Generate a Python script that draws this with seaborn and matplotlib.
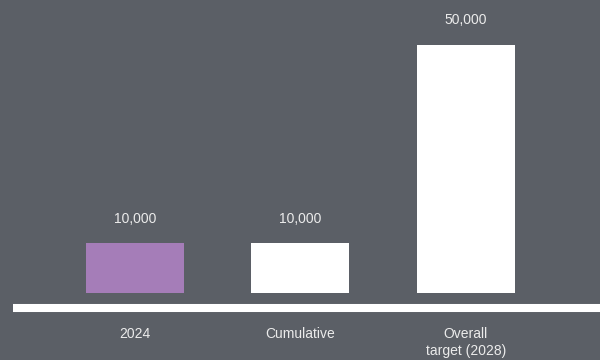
import matplotlib
matplotlib.use("Agg")
import matplotlib.pyplot as plt
import seaborn as sns
import pandas as pd

# Chart data
categories = ["2024", "Cumulative", "Overall\ntarget (2028)"]
values = [10000, 10000, 50000]
value_labels = ["10,000", "10,000", "50,000"]

# Styling
bg = "#5b5f66"
text_color = "#ebebeb"
bar_colors = ["#a57db8", "#ffffff", "#ffffff"]

sns.set_theme(style="white")
plt.rcParams["font.family"] = ["Liberation Sans", "DejaVu Sans"]

df = pd.DataFrame({"category": categories, "value": values})

W, H = 600, 360
fig = plt.figure(figsize=(W / 100, H / 100), dpi=100, facecolor=bg)
# axes spans from x=13px to the right edge, bottom of bars at 293px from top
ax = fig.add_axes([13 / W, (H - 293) / H, (W - 13) / W, 293 / H])
ax.set_facecolor(bg)

sns.barplot(data=df, x="category", y="value", hue="category",
            palette=bar_colors, order=categories, hue_order=categories,
            width=0.592, saturation=1, legend=False, linewidth=0,
            edgecolor="none", ax=ax)

ax.set_xlim(-0.737, 2.81)
ax.set_ylim(0, 50000 * 293 / 248)

for i, (v, lab) in enumerate(zip(values, value_labels)):
    ax.annotate(lab, xy=(i, v), xytext=(0, 14.8), textcoords="offset points",
                ha="center", va="baseline", fontsize=10, color=text_color,
                annotation_clip=False)

# Thick white baseline below the bars
for side in ["top", "right", "left"]:
    ax.spines[side].set_visible(False)
base = ax.spines["bottom"]
base.set_color("white")
base.set_linewidth(5.8)
base.set_capstyle("butt")
base.set_position(("outward", 10.6))

ax.set_yticks([])
ax.set_xlabel("")
ax.set_ylabel("")
ax.tick_params(axis="x", length=0, pad=14, labelsize=10, colors=text_color)
for t in ax.get_xticklabels():
    t.set_linespacing(1.25)
    t.set_verticalalignment("top")

fig.savefig("out.png", dpi=100, facecolor=bg)
